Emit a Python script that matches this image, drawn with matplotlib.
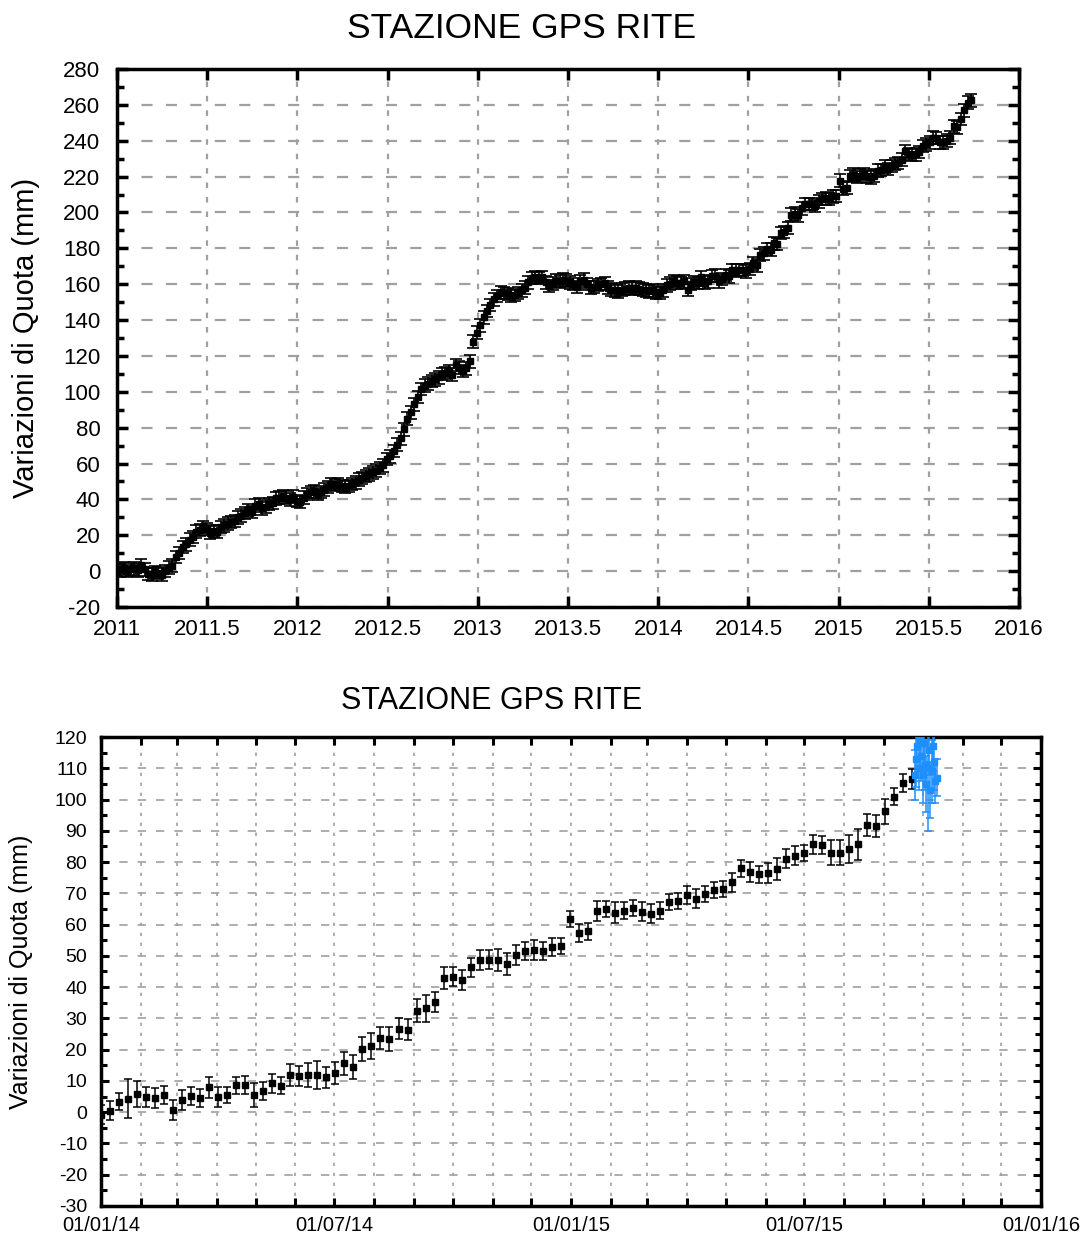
import numpy as np
import pandas as pd
import matplotlib
matplotlib.use("Agg")
import matplotlib.pyplot as plt
import matplotlib.dates as mdates
from matplotlib.ticker import MultipleLocator, FuncFormatter

plt.rcParams['font.family'] = ['Liberation Sans', 'DejaVu Sans']
plt.rcParams['axes.unicode_minus'] = False

# ---- pannello superiore: serie settimanale dal 2011.0 (mm)
top_start = 2011.0
top_quota = [
    1.0, 0.5, 1.5, 0.0, 1.0, 1.5, 0.5, 3.5, 1.0, -1.5, -2.0, -0.5, -1.0, -2.0, 0.0, 2.0,
    3.0, 8.0, 10.0, 13.5, 15.0, 17.5, 19.0, 22.0, 23.0, 24.5, 23.5, 21.5, 22.5, 22.0, 24.5, 25.5,
    26.5, 27.5, 28.0, 30.0, 31.0, 32.5, 34.0, 33.0, 36.5, 37.5, 35.0, 36.0, 37.5, 38.0, 40.5, 41.0,
    42.0, 41.0, 40.0, 41.5, 39.0, 38.5, 41.0, 43.0, 44.0, 44.5, 43.0, 44.0, 45.5, 47.0, 48.5, 48.0,
    48.5, 47.5, 47.0, 47.5, 48.5, 49.5, 51.0, 52.0, 53.0, 54.0, 55.0, 56.0, 57.5, 59.0, 62.5, 64.0,
    67.0, 70.5, 74.0, 79.0, 85.0, 88.5, 93.0, 97.0, 101.5, 103.5, 104.5, 106.0, 107.0, 108.0, 110.0, 110.5,
    111.5, 109.5, 115.0, 113.5, 111.5, 113.0, 117.0, 128.0, 133.0, 137.0, 141.5, 145.0, 148.5, 151.5, 153.5, 155.5,
    155.0, 154.5, 153.5, 154.0, 155.0, 156.5, 158.0, 161.0, 163.5, 164.0, 163.5, 164.0, 161.0, 159.0, 160.5, 162.0,
    161.5, 162.5, 162.0, 161.0, 160.0, 158.5, 161.5, 162.5, 160.0, 158.0, 158.5, 159.5, 160.0, 160.5, 158.0, 157.0,
    156.5, 156.0, 157.0, 157.5, 158.0, 157.5, 158.0, 157.5, 157.0, 156.5, 156.0, 156.5, 155.5,
    155.2, 156.5, 159.3, 160.3, 161.8, 160.8, 160.6, 161.5, 156.8, 160.0, 161.1, 160.6, 163.9, 160.8, 161.5, 164.6,
    164.7, 161.5, 162.8, 165.2, 164.4, 168.0, 167.5, 167.8, 168.0, 167.1, 168.4, 171.6, 170.5, 176.2, 177.2, 179.6,
    179.3, 182.7, 182.4, 188.5, 189.2, 191.3, 198.8, 199.3, 198.3, 202.3, 204.6, 204.8, 204.8, 203.5, 206.2, 207.6,
    207.9, 207.6, 208.9, 209.2, 217.8, 213.3, 213.8, 220.3, 221.1, 219.8, 220.5, 221.4, 220.1, 219.5, 220.5, 223.3,
    223.6, 225.5, 224.3, 225.8, 227.1, 227.5, 229.5, 234.0, 232.7, 232.1, 232.4, 233.7, 237.1, 238.0, 239.0, 241.7,
    241.5, 239.0, 239.0, 240.1, 241.7, 248.0, 247.4, 252.2, 256.9, 261.3, 262.5,
]
top_err = 3.5

# ---- pannello inferiore: dal 01/01/14, settimanale (mm)
bot_start = "2014-01-01"
bot_quota = [
    -0.8, 0.5, 3.3, 4.3, 5.8, 4.8, 4.6, 5.5, 0.8, 4.0, 5.1, 4.6, 7.9, 4.8, 5.5, 8.6,
    8.7, 5.5, 6.8, 9.2, 8.4, 12.0, 11.5, 11.8, 12.0, 11.1, 12.4, 15.6, 14.5, 20.2, 21.2, 23.6,
    23.3, 26.7, 26.4, 32.5, 33.2, 35.3, 42.8, 43.3, 42.3, 46.3, 48.6, 48.8, 48.8, 47.5, 50.2, 51.6,
    51.9, 51.6, 52.9, 53.2, 61.8, 57.3, 57.8, 64.3, 65.1, 63.8, 64.5, 65.4, 64.1, 63.5, 64.5, 67.3,
    67.6, 69.5, 68.3, 69.8, 71.1, 71.5, 73.5, 78.0, 76.7, 76.1, 76.4, 77.7, 81.1, 82.0, 83.0, 85.7,
    85.5, 83.0, 83.0, 84.1, 85.7, 92.0, 91.4, 96.2, 100.9, 105.3, 106.5,
]
bot_err = [
    3.0, 3.0, 2.7, 6.2, 4.2, 3.3, 3.2, 3.0, 3.2, 3.2, 2.8, 2.8, 3.3, 3.3, 2.6, 2.8,
    3.0, 3.8, 3.0, 3.0, 2.7, 3.5, 3.2, 3.8, 4.5, 3.5, 3.5, 3.8, 3.8, 3.8, 4.2, 3.5,
    3.8, 3.3, 3.3, 3.8, 4.2, 3.2, 3.5, 3.0, 3.2, 3.0, 3.2, 3.0, 3.5, 3.5, 3.2, 2.8,
    3.3, 2.8, 2.8, 2.6, 2.6, 2.8, 2.6, 3.2, 2.6, 3.3, 2.8, 2.6, 3.0, 3.0, 2.8, 2.6,
    2.6, 2.8, 3.0, 2.6, 2.6, 2.6, 3.0, 2.8, 3.2, 2.8, 3.2, 3.5, 3.0, 3.0, 2.6, 3.0,
    3.0, 4.0, 4.0, 4.5, 5.0, 3.5, 3.5, 4.0, 2.8, 3.0, 3.2,
]
# dati giornalieri piu' recenti (in blu)
new_start = "2015-09-25"
new_quota = [108, 113, 117, 110, 119, 114, 108, 118, 111, 105, 110, 116, 103, 109, 117, 112, 106, 107]
new_err = [8, 9, 10, 7, 9, 8, 9, 10, 8, 9, 20, 8, 9, 10, 8, 9, 7, 6]

titolo = "STAZIONE GPS RITE"
ylabel = "Variazioni di Quota (mm)"

GRID = '#a0a0a0'

fig = plt.figure(figsize=(10.83, 12.36), dpi=100)

# ---------------- grafico 1
ax1 = fig.add_axes([0.108, 0.5089, 0.833, 0.4353])
t_top = top_start + np.arange(len(top_quota)) * 7 / 365.25
ax1.errorbar(t_top, top_quota, yerr=top_err, fmt='s', color='black', ms=5,
             capsize=4, elinewidth=1.2, capthick=1.2, zorder=3)
ax1.set_xlim(2011, 2016)
ax1.set_ylim(-20, 280)
ax1.xaxis.set_major_locator(MultipleLocator(0.5))
ax1.xaxis.set_major_formatter(FuncFormatter(lambda v, p: f"{v:g}"))
ax1.yaxis.set_major_locator(MultipleLocator(20))
ax1.yaxis.set_minor_locator(MultipleLocator(10))
ax1.set_axisbelow(True)
ax1.yaxis.grid(True, color=GRID, lw=1.6, linestyle=(0, (5, 6)))
ax1.xaxis.grid(True, color=GRID, lw=1.6, linestyle=(0, (2.5, 4)))
ax1.tick_params(which='both', direction='in', top=True, right=True, width=2.5)
ax1.tick_params(which='major', length=8)
ax1.tick_params(which='minor', length=5)
ax1.tick_params(axis='x', labelsize=16, pad=9)
ax1.tick_params(axis='y', labelsize=16, pad=12)
for s in ax1.spines.values():
    s.set_linewidth(2.5)
ax1.set_ylabel(ylabel, fontsize=21)
ax1.yaxis.set_label_coords(-0.085, 0.5)
fig.text(521.5 / 1083, 1 - 28 / 1236, titolo, fontsize=25.5, ha='center', va='center')

# ---------------- grafico 2
ax2 = fig.add_axes([0.0933, 0.0243, 0.868, 0.3794])
d_bot = pd.date_range(bot_start, periods=len(bot_quota), freq='7D')
d_new = pd.date_range(new_start, periods=len(new_quota), freq='D')
ax2.errorbar(d_bot, bot_quota, yerr=bot_err, fmt='s', color='black', ms=4.5,
             capsize=3, elinewidth=1.1, capthick=1.1, zorder=3)
ax2.errorbar(d_new, new_quota, yerr=new_err, fmt='s', color='#1e8fff', ms=4.5,
             capsize=3, elinewidth=1.1, capthick=1.1, zorder=4)
ax2.set_xlim(pd.Timestamp("2014-01-01"), pd.Timestamp("2016-01-01"))
ax2.set_ylim(-30, 120)
ax2.xaxis.set_major_locator(mdates.MonthLocator(bymonth=[1, 7]))
ax2.xaxis.set_minor_locator(mdates.MonthLocator())
ax2.xaxis.set_major_formatter(mdates.DateFormatter('%d/%m/%y'))
ax2.yaxis.set_major_locator(MultipleLocator(10))
ax2.yaxis.set_minor_locator(MultipleLocator(5))
ax2.set_axisbelow(True)
ax2.yaxis.grid(True, color=GRID, lw=1.2, linestyle=(0, (5, 6)))
ax2.xaxis.grid(True, which='both', color=GRID, lw=1.2, linestyle=(0, (2, 4)))
ax2.tick_params(which='both', direction='in', top=True, right=True, width=2.2)
ax2.tick_params(which='major', length=6)
ax2.tick_params(axis='y', which='minor', length=4)
ax2.tick_params(axis='x', which='minor', length=6)
ax2.tick_params(axis='x', labelsize=14.5, pad=7)
ax2.tick_params(axis='y', labelsize=14, pad=10)
for s in ax2.spines.values():
    s.set_linewidth(2.5)
ax2.set_ylabel(ylabel, fontsize=18)
ax2.yaxis.set_label_coords(-0.072, 0.5)
fig.text(491.5 / 1083, 1 - 701 / 1236, titolo, fontsize=22, ha='center', va='center')

fig.savefig("out.png", dpi=100)
